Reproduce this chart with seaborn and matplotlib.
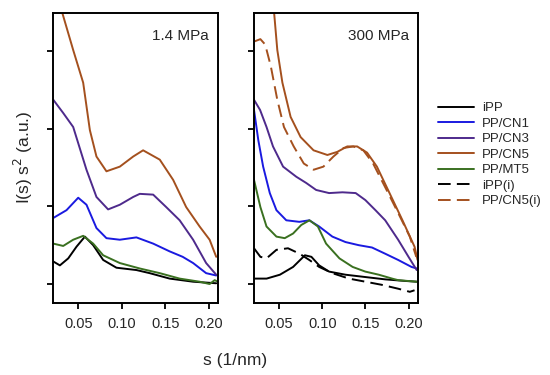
import matplotlib
matplotlib.use("Agg")
import matplotlib.pyplot as plt
import seaborn as sns
import pandas as pd

# ---------------- data ----------------
# Left panel: 1.4 MPa
l_ipp_s = [0.021, 0.0286, 0.0382, 0.0477, 0.0574, 0.0669, 0.0784, 0.0937, 0.1167, 0.132, 0.155, 0.182, 0.2086]
l_ipp_v = [0.29, 0.24, 0.33, 0.48, 0.61, 0.50, 0.31, 0.21, 0.18, 0.14, 0.07, 0.03, 0.01]

l_cn1_s = [0.021, 0.0362, 0.0497, 0.0592, 0.0707, 0.0822, 0.0976, 0.1167, 0.136, 0.155, 0.170, 0.182, 0.197, 0.2086]
l_cn1_v = [0.85, 0.95, 1.11, 1.02, 0.72, 0.59, 0.57, 0.60, 0.52, 0.42, 0.35, 0.27, 0.14, 0.11]

l_cn3_s = [0.021, 0.0324, 0.0439, 0.0592, 0.0707, 0.0841, 0.0976, 0.113, 0.1206, 0.136, 0.151, 0.1665, 0.182, 0.197, 0.2086]
l_cn3_v = [2.37, 2.20, 2.02, 1.47, 1.12, 0.96, 1.02, 1.12, 1.16, 1.15, 0.99, 0.82, 0.57, 0.27, 0.12]

l_cn5_s = [0.021, 0.0313, 0.0439, 0.0554, 0.0631, 0.0707, 0.0822, 0.0976, 0.113, 0.1244, 0.1436, 0.159, 0.174, 0.1895, 0.201, 0.2086]
l_cn5_v = [3.85, 3.49, 3.01, 2.59, 1.98, 1.64, 1.45, 1.51, 1.64, 1.72, 1.60, 1.34, 0.99, 0.74, 0.57, 0.35]

l_mt5_s = [0.021, 0.0324, 0.0439, 0.0554, 0.0669, 0.0784, 0.0976, 0.1206, 0.1436, 0.1665, 0.1895, 0.201, 0.2068, 0.2105]
l_mt5_v = [0.52, 0.49, 0.57, 0.62, 0.52, 0.37, 0.27, 0.20, 0.14, 0.07, 0.03, 0.0, 0.05, 0.03]

# Right panel: 300 MPa
r_ipp_s = [0.021, 0.0356, 0.051, 0.0663, 0.080, 0.0875, 0.0965, 0.108, 0.127, 0.150, 0.173, 0.196, 0.2095]
r_ipp_v = [0.07, 0.07, 0.12, 0.22, 0.37, 0.35, 0.24, 0.16, 0.12, 0.09, 0.06, 0.04, 0.03]

r_cn1_s = [0.021, 0.026, 0.0316, 0.0393, 0.047, 0.0584, 0.0735, 0.085, 0.0965, 0.1118, 0.127, 0.1423, 0.1577, 0.173, 0.188, 0.2035, 0.2095]
r_cn1_v = [2.24, 1.85, 1.51, 1.17, 0.95, 0.82, 0.80, 0.82, 0.74, 0.61, 0.54, 0.50, 0.47, 0.39, 0.31, 0.22, 0.20]

r_cn3_s = [0.021, 0.028, 0.0355, 0.043, 0.0547, 0.070, 0.0815, 0.093, 0.108, 0.1235, 0.1388, 0.150, 0.1617, 0.173, 0.188, 0.200, 0.2095]
r_cn3_v = [2.37, 2.24, 2.02, 1.77, 1.51, 1.38, 1.30, 1.21, 1.17, 1.18, 1.17, 1.08, 0.95, 0.82, 0.57, 0.35, 0.18]

r_cn5_s = [0.021, 0.035, 0.0443, 0.048, 0.0539, 0.0634, 0.075, 0.090, 0.106, 0.1175, 0.129, 0.1405, 0.152, 0.1634, 0.178, 0.193, 0.207, 0.2105]
r_cn5_v = [5.50, 4.40, 3.49, 3.01, 2.59, 2.15, 1.89, 1.72, 1.66, 1.70, 1.77, 1.77, 1.69, 1.51, 1.17, 0.82, 0.48, 0.31]

r_mt5_s = [0.021, 0.0284, 0.0355, 0.047, 0.0566, 0.0663, 0.0758, 0.0853, 0.095, 0.1045, 0.120, 0.1353, 0.150, 0.1656, 0.181, 0.188, 0.2095]
r_mt5_v = [1.34, 0.99, 0.74, 0.61, 0.59, 0.65, 0.76, 0.82, 0.74, 0.52, 0.33, 0.22, 0.16, 0.12, 0.07, 0.05, 0.03]

r_ippi_s = [0.021, 0.0284, 0.0355, 0.047, 0.0604, 0.0738, 0.085, 0.0965, 0.1118, 0.131, 0.150, 0.169, 0.188, 0.2015, 0.207]
r_ippi_v = [0.46, 0.35, 0.33, 0.44, 0.46, 0.39, 0.31, 0.22, 0.14, 0.07, 0.03, -0.01, -0.06, -0.10, -0.08]

r_cn5i_s = [0.0213, 0.0284, 0.034, 0.0405, 0.048, 0.0557, 0.067, 0.0787, 0.090, 0.1014, 0.113, 0.1247, 0.136, 0.1477, 0.159, 0.1746, 0.190, 0.2015, 0.209]
r_cn5i_v = [3.12, 3.15, 3.08, 2.80, 2.37, 2.02, 1.77, 1.55, 1.47, 1.51, 1.64, 1.75, 1.77, 1.72, 1.55, 1.21, 0.87, 0.61, 0.35]

x_ticks = [0.05, 0.10, 0.15, 0.20]
x_tick_labels = ["0.05", "0.10", "0.15", "0.20"]
y_ticks = [0, 1, 2, 3]
panel_titles = ["1.4 MPa", "300 MPa"]

colors = {
    "iPP": "#000000",
    "PP/CN1": "#1a1ae0",
    "PP/CN3": "#4e2a8c",
    "PP/CN5": "#a4501e",
    "PP/MT5": "#3a7020",
    "iPP(i)": "#000000",
    "PP/CN5(i)": "#a4501e",
}

left = [("iPP", l_ipp_s, l_ipp_v), ("PP/CN1", l_cn1_s, l_cn1_v), ("PP/CN3", l_cn3_s, l_cn3_v),
        ("PP/CN5", l_cn5_s, l_cn5_v), ("PP/MT5", l_mt5_s, l_mt5_v)]
right = [("iPP", r_ipp_s, r_ipp_v), ("PP/CN1", r_cn1_s, r_cn1_v), ("PP/CN3", r_cn3_s, r_cn3_v),
         ("PP/CN5", r_cn5_s, r_cn5_v), ("PP/MT5", r_mt5_s, r_mt5_v),
         ("iPP(i)", r_ippi_s, r_ippi_v), ("PP/CN5(i)", r_cn5i_s, r_cn5i_v)]

# ---------------- style ----------------
sns.set_style("ticks")
plt.rcParams["font.family"] = ["Liberation Sans", "DejaVu Sans"]
plt.rcParams["axes.linewidth"] = 1.4

W, H = 550, 375
fig = plt.figure(figsize=(5.5, 3.75), dpi=100)
ax_l = fig.add_axes([53.3 / W, 1 - 302.7 / H, 165 / W, 290 / H])
ax_r = fig.add_axes([254 / W, 1 - 302.7 / H, 164 / W, 290 / H])

dash = (0, (6.5, 3.2))
for ax, series, title in [(ax_l, left, panel_titles[0]), (ax_r, right, panel_titles[1])]:
    for name, s, v in series:
        df = pd.DataFrame({"s": s, "v": v})
        ls = dash if name.endswith("(i)") else "-"
        sns.lineplot(data=df, x="s", y="v", ax=ax, color=colors[name], lw=1.4,
                     linestyle=ls, label=name, sort=False, legend=False)
    ax.set_xlim(0.021, 0.211)
    ax.set_ylim(-0.24, 3.49)
    ax.set_xticks(x_ticks)
    ax.set_xticklabels(x_tick_labels, fontsize=10.5)
    ax.set_yticks(y_ticks)
    ax.set_yticklabels([])
    ax.set_xlabel("")
    ax.set_ylabel("")
    ax.tick_params(direction="out", length=4, width=1.3, color="black", pad=6)
    for sp in ax.spines.values():
        sp.set_visible(True)
        sp.set_color("black")
        sp.set_linewidth(1.4)
    ax.text(0.945, 0.92, title, transform=ax.transAxes, ha="right", va="center", fontsize=11)

fig.text(235.5 / W, 1 - 360 / H, "s (1/nm)", ha="center", va="center", fontsize=12.5)
fig.text(23 / W, 1 - 157.7 / H, "I(s) s$^2$ (a.u.)", ha="center", va="center",
         rotation=90, fontsize=12.5)

handles, labels = ax_r.get_legend_handles_labels()
fig.legend(handles, labels, loc="upper left", bbox_to_anchor=(438 / W, 1 - 102 / H),
           frameon=False, fontsize=9.5, handlelength=2.75, handletextpad=0.6,
           labelspacing=0.25, borderpad=0, borderaxespad=0)

fig.savefig("out.png", dpi=100)
